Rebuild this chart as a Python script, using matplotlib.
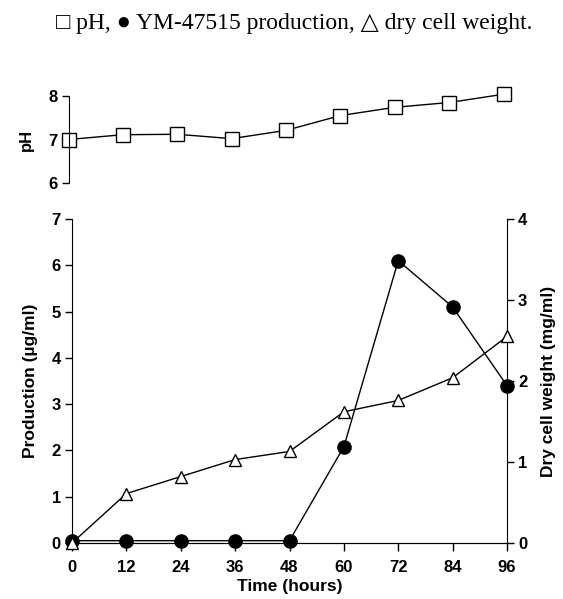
import matplotlib
matplotlib.use("Agg")
import matplotlib.pyplot as plt

plt.rcParams['font.family'] = ['Liberation Sans', 'DejaVu Sans']
plt.rcParams['font.weight'] = 'bold'

hours = [0, 12, 24, 36, 48, 60, 72, 84, 96]
ph = [7.0, 7.11, 7.12, 7.02, 7.21, 7.55, 7.74, 7.85, 8.04]
production = [0.05, 0.05, 0.05, 0.05, 0.05, 2.08, 6.1, 5.1, 3.4]
dry_weight = [0.0, 0.61, 0.82, 1.03, 1.13, 1.62, 1.76, 2.04, 2.55]

W, H = 563, 599
fig = plt.figure(figsize=(W / 100, H / 100), dpi=100)

def frac(x0, y0, x1, y1):
    return [x0 / W, 1 - y1 / H, (x1 - x0) / W, (y1 - y0) / H]

# pH panel
ax_ph = fig.add_axes(frac(68.5, 96, 503.5, 183))
ax_ph.plot(hours, ph, color='black', lw=1, marker='s', ms=10,
           mfc='white', mec='black', mew=1, clip_on=False)
ax_ph.set_xlim(0, 96)
ax_ph.set_ylim(6, 8)
ax_ph.set_yticks([6, 7, 8])
for s in ['top', 'right', 'bottom']:
    ax_ph.spines[s].set_visible(False)
ax_ph.set_xticks([])
ax_ph.tick_params(axis='y', direction='out', length=5, width=1, labelsize=12, pad=3)
ax_ph.set_ylabel('pH', fontsize=12, fontweight='bold', labelpad=10)

# main panel
ax = fig.add_axes(frac(72, 219, 507, 543))
ax.plot(hours, production, color='black', lw=1, marker='o', ms=9.5,
        mfc='black', mec='black', clip_on=False, zorder=4)
ax.set_xlim(0, 96)
ax.set_ylim(0, 7)
ax.set_xticks(hours)
ax.set_yticks(range(0, 8))
ax.spines['top'].set_visible(False)
ax.spines['right'].set_visible(False)
ax.tick_params(direction='out', length=5, width=1, labelsize=12, pad=3)
ax.tick_params(axis='x', length=6, pad=6)
ax.set_xlabel('Time (hours)', fontsize=12.5, fontweight='bold', labelpad=3)
ax.set_ylabel('Production (µg/ml)', fontsize=12.5, fontweight='bold', labelpad=10)

ax2 = ax.twinx()
ax2.plot(hours, dry_weight, color='black', lw=1, marker='^', ms=9,
         mfc='white', mec='black', mew=1, clip_on=False, zorder=3)
ax2.set_ylim(0, 3.95)
ax2.set_yticks([0, 1, 2, 3, 4])
ax2.spines['top'].set_visible(False)
ax2.spines['left'].set_visible(False)
ax2.spines['right'].set_bounds(0, 4)
ax2.tick_params(direction='out', length=5, width=1, labelsize=12, pad=3)
ax2.set_ylabel('Dry cell weight (mg/ml)', fontsize=12.5, fontweight='bold', labelpad=10)

fig.text(294 / W, 1 - 23 / H, '□ pH, ● YM-47515 production, △ dry cell weight.',
         ha='center', va='center', fontsize=17, fontweight='normal',
         family=['Liberation Serif', 'DejaVu Sans'])

fig.savefig('out.png', dpi=100)
